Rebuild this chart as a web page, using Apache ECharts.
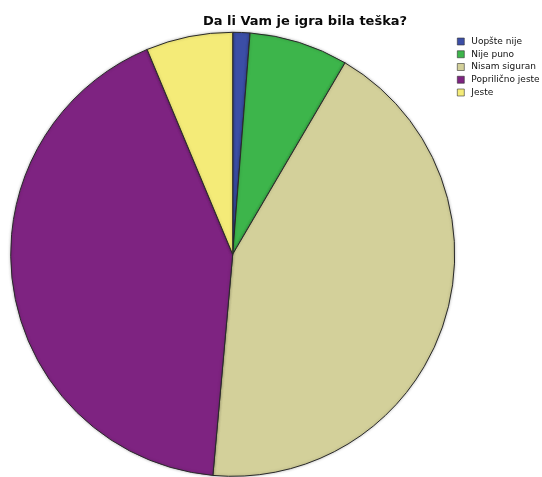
<!DOCTYPE html>
<html>
<head>
<meta charset="utf-8">
<script src="https://cdn.jsdelivr.net/npm/echarts@6/dist/echarts.min.js"></script>
<style>
  html, body { margin: 0; padding: 0; background: #ffffff; }
  #chart { width: 542px; height: 477px; }
</style>
</head>
<body>
<div id="chart"></div>
<script>
// Answer categories and their shares (percent)
const categories = ['Uopšte nije', 'Nije puno', 'Nisam siguran', 'Poprilično jeste', 'Jeste'];
const shares = [1.25, 7.2, 43.0, 42.3, 6.3];
const colors = ['#3b4ea6', '#3db54b', '#d3d09a', '#7e2381', '#f4eb78'];

const chart = echarts.init(document.getElementById('chart'), null, { renderer: 'canvas' });

chart.setOption({
  animation: false,
  backgroundColor: '#ffffff',
  color: colors,
  title: {
    text: 'Da li Vam je igra bila teška?',
    left: 300,
    top: 10,
    textAlign: 'center',
    textStyle: {
      fontFamily: 'DejaVu Sans, Arial, sans-serif',
      fontWeight: 'bold',
      fontSize: 13,
      color: '#0a0a0a'
    }
  },
  legend: {
    orient: 'vertical',
    left: 452,
    top: 32,
    itemWidth: 7,
    itemHeight: 7,
    itemGap: 3.75,
    icon: 'rect',
    selectedMode: false,
    itemStyle: { borderColor: '#333333', borderWidth: 0.6 },
    textStyle: {
      fontFamily: 'DejaVu Sans, Arial, sans-serif',
      fontSize: 9,
      color: '#111111',
      padding: [0, 0, 0, 2],
      lineHeight: 9
    },
    data: categories
  },
  series: [{
    type: 'pie',
    center: [232.7, 254.3],
    radius: 222,
    startAngle: 90,
    clockwise: true,
    label: { show: false },
    labelLine: { show: false },
    emphasis: { disabled: true },
    itemStyle: {
      borderColor: '#2a2a2a',
      borderWidth: 1,
      shadowBlur: 3,
      shadowColor: 'rgba(0,0,0,0.25)'
    },
    data: categories.map((name, i) => ({ name: name, value: shares[i] }))
  }]
});
</script>
</body>
</html>
